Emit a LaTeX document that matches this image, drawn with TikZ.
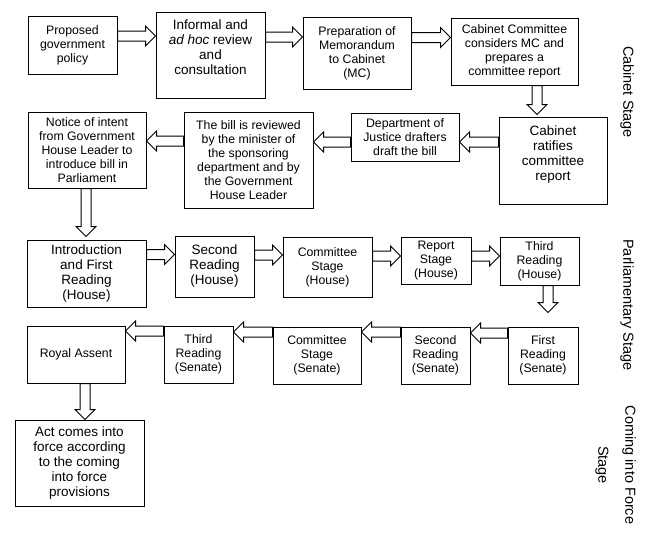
\documentclass[tikz,border=0pt]{standalone}
\usepackage{fontspec}
\setmainfont{Liberation Sans}
\usepackage{tikz}
\usetikzlibrary{calc}

\tikzset{
  box/.style={draw, line width=1pt, align=center, inner sep=0pt, font=\fontsize{12.3}{14}\selectfont},
  bigbox/.style={box, font=\fontsize{13.5}{15}\selectfont},
  stage/.style={rotate=-90, align=center, font=\fontsize{14.5}{17}\selectfont},
  harrow/.style={line width=1pt, to path={
    let \p1=(\tikztostart), \p2=(\tikztotarget), \n1={sign(\x2-\x1)} in
    ({\x1},{\y1+5pt}) -- ({\x2-(\n1)*10pt},{\y1+5pt}) -- ({\x2-(\n1)*10pt},{\y1+10pt})
    -- ({\x2},{\y1}) -- ({\x2-(\n1)*10pt},{\y1-10pt}) -- ({\x2-(\n1)*10pt},{\y1-5pt})
    -- ({\x1},{\y1-5pt}) -- cycle}},
  varrow/.style={line width=1pt, to path={
    let \p1=(\tikztostart), \p2=(\tikztotarget), \n1={sign(\y2-\y1)} in
    ({\x1-5pt},{\y1}) -- ({\x1-5pt},{\y2-(\n1)*10pt}) -- ({\x1-10pt},{\y2-(\n1)*10pt})
    -- ({\x1},{\y2}) -- ({\x1+10pt},{\y2-(\n1)*10pt}) -- ({\x1+5pt},{\y2-(\n1)*10pt})
    -- ({\x1+5pt},{\y1}) -- cycle}}
}

\begin{document}
\begin{tikzpicture}[x=1pt, y=-1pt]
        \useasboundingbox (0,0) rectangle (651,538);
        % cabinet stage
        \node[box, minimum width=89pt, minimum height=58pt] at (72.5,45) (pol){Proposed\\government\\policy};
        \node[bigbox, minimum width=109pt, minimum height=86pt] at (210.5,55) (rev){Informal and\\\textit{ad hoc} review\\and\\consultation\\\mbox{}};
        \node[box, minimum width=108pt, minimum height=72pt] at (357,53) (mc){Preparation of\\Memorandum\\to Cabinet\\(MC)};
        \node[box, minimum width=127pt, minimum height=67pt] at (514.5,51.5) (cc){Cabinet Committee\\considers MC and\\prepares a\\committee report};
        \node[bigbox, minimum width=108pt, minimum height=87pt] at (553,160.5) (rat){Cabinet\\ratifies\\committee\\report\\\mbox{}};
        \node[box, minimum width=108pt, minimum height=48pt] at (405,137) (doj){Department of\\Justice drafters\\draft the bill};
        \node[box, minimum width=129pt, minimum height=96pt] at (248.5,160) (min){The bill is reviewed\\by the minister of\\the sponsoring\\department and by\\the Government\\House Leader};
        \node[box, minimum width=118pt, minimum height=76pt] at (87,150) (not){Notice of intent\\from Government\\House Leader to\\introduce bill in\\Parliament};
        % parliamentary stage
        \node[bigbox, minimum width=119pt, minimum height=67pt] at (86.5,273.5) (h1){Introduction\\and First\\Reading\\(House)};
        \node[bigbox, minimum width=79pt, minimum height=61pt] at (214.5,266.5) (h2){Second\\Reading\\(House)};
        \node[box, minimum width=89pt, minimum height=60pt] at (327.5,267) (hc){Committee\\Stage\\(House)};
        \node[box, minimum width=70pt, minimum height=47pt] at (436,260.5) (hr){Report\\Stage\\(House)};
        \node[box, minimum width=79pt, minimum height=48pt] at (539.5,261) (h3){Third\\Reading\\(House)};
        \node[box, minimum width=70pt, minimum height=57pt] at (543,355.5) (s1){First\\Reading\\(Senate)};
        \node[box, minimum width=69pt, minimum height=57pt] at (435.5,355.5) (s2){Second\\Reading\\(Senate)};
        \node[box, minimum width=88pt, minimum height=57pt] at (317,355.5) (sc){Committee\\Stage\\(Senate)};
        \node[box, minimum width=69pt, minimum height=57pt] at (198.5,354.5) (s3){Third\\Reading\\(Senate)};
        \node[box, minimum width=98pt, minimum height=57pt] at (76,354.5) (ra){Royal Assent};
        % coming into force
        \node[bigbox, minimum width=129pt, minimum height=86pt] at (79.5,463) (act){Act comes into\\force according\\to the coming\\into force\\provisions};
        % stage labels
        \node[stage] at (627,92) (cab){Cabinet Stage};
        \node[stage] at (627,305) (par){Parliamentary Stage};
        \node[stage] at (615.5,465) (cif){Coming into Force\\[10pt]Stage};
        % block arrows
        \draw[harrow] ([yshift=9pt]pol.east) to (rev.west);
        \draw[harrow] ([yshift=18pt]rev.east) to (mc.west);
        \draw[harrow] ([yshift=15.5pt]mc.east) to (cc.west);
        \draw[varrow] ([xshift=22.5pt]cc.south) to ([yshift=2pt]rat.north);
        \draw[harrow] ([yshift=18.5pt]rat.west) to (doj.east);
        \draw[harrow] ([yshift=-5pt]doj.west) to (min.east);
        \draw[harrow] ([yshift=19pt]min.west) to (not.east);
        \draw[varrow] ([xshift=-1pt]not.south) to ([yshift=3pt]h1.north);
        \draw[harrow] ([yshift=19pt]h1.east) to (h2.west);
        \draw[harrow] ([yshift=11.5pt]h2.east) to (hc.west);
        \draw[harrow] ([yshift=11pt]hc.east) to (hr.west);
        \draw[harrow] ([yshift=4.5pt]hr.east) to (h3.west);
        \draw[varrow] ([xshift=8.5pt]h3.south) to ([yshift=14pt]s1.north);
        \draw[harrow] ([yshift=22.5pt]s1.west) to (s2.east);
        \draw[harrow] ([yshift=23.5pt]s2.west) to (sc.east);
        \draw[harrow] ([yshift=23.5pt]sc.west) to (s3.east);
        \draw[harrow] ([yshift=23.5pt]s3.west) to (ra.east);
        \draw[varrow] ([xshift=9pt]ra.south) to (act.north);
      \end{tikzpicture}
\end{document}
